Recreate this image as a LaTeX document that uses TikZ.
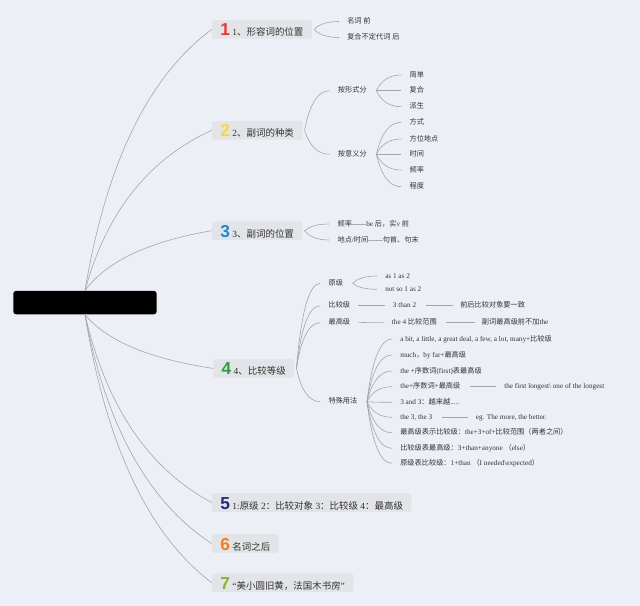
\documentclass[tikz,border=0pt]{standalone}
\usepackage{fontspec}
\usepackage{graphicx}
\setmainfont{Liberation Serif}
\newfontfamily\cjkfont{Noto Sans CJK SC}
\newfontfamily\numfont{Liberation Sans}
\usetikzlibrary{calc}
\XeTeXinterchartokenstate=1
\newXeTeXintercharclass\CJKclass
\newcount\cjkcnt
\def\setcjkrange#1#2{\cjkcnt=#1\relax\loop\ifnum\cjkcnt<#2\relax \XeTeXcharclass\cjkcnt=\CJKclass \advance\cjkcnt by 1 \repeat}
\setcjkrange{"3000}{"3040}
\setcjkrange{"4E00}{"A000}
\setcjkrange{"FF00}{"FFF0}
\XeTeXcharclass"201C=0
\XeTeXcharclass"201D=0
\XeTeXcharclass"2014=0
\XeTeXinterchartoks 0 \CJKclass = {\cjkfont}
\XeTeXinterchartoks 4095 \CJKclass = {\cjkfont}
\XeTeXinterchartoks \CJKclass 0 = {\rmfamily}
\XeTeXinterchartoks \CJKclass 4095 = {\rmfamily}
\definecolor{bg}{RGB}{236,240,246}
\definecolor{boxc}{RGB}{226,228,232}
\definecolor{linec}{RGB}{165,165,165}
\definecolor{txt}{RGB}{51,51,51}
\definecolor{cA}{RGB}{229,57,53}
\definecolor{cB}{RGB}{247,214,73}
\definecolor{cC}{RGB}{30,136,210}
\definecolor{cD}{RGB}{46,158,62}
\definecolor{cE}{RGB}{35,42,122}
\definecolor{cF}{RGB}{242,123,33}
\definecolor{cG}{RGB}{141,179,44}
\newcommand\dg[2]{{\numfont\bfseries\fontsize{13}{13}\selectfont\color{#1}#2}\hspace{1.8pt}}
\tikzset{
  topic/.style={fill=boxc, rounded corners=1.5pt, inner xsep=6.3pt, inner ysep=0pt,
    text height=11.9pt, text depth=2pt, anchor=west, font=\fontsize{7.1}{8}\selectfont, text=txt},
  leaf/.style={inner sep=0pt, anchor=west, text height=4.4pt, text depth=1.2pt,
    font=\fontsize{5.4}{6}\selectfont, text=txt},
  rconn/.style={draw=linec, line width=0.45pt, to path={let \p1=(\tikztostart), \p2=(\tikztotarget) in
    .. controls ({\x1+0.1667*(\x2-\x1)},{\y1+0.487*(\y2-\y1)}) and ({\x2-0.5*(\x2-\x1)},{\y2-0.18*(\y2-\y1)}) .. (\tikztotarget)}},
  conn/.style={draw=linec, line width=0.45pt, to path={let \p1=(\tikztostart), \p2=(\tikztotarget) in
    .. controls ({\x1+0.2*(\x2-\x1)},{\y1+0.667*(\y2-\y1)}) and ({\x2-0.467*(\x2-\x1)},\y2) .. (\tikztotarget)}},
}
\begin{document}
\begin{tikzpicture}[x=0.75pt,y=-0.75pt]
\useasboundingbox (0,0) rectangle (640,606);
\fill[bg] (0,0) rectangle (640,606);
% root
\node[fill=black, rounded corners=2pt, inner sep=0pt, minimum width=107.5pt, minimum height=17.5pt] (root) at (85,302.6) {};
% topics
\node[topic] (t1) at (211.7,29.4) {\dg{cA}{1}1、形容词的位置};
\node[topic] (t2) at (211.7,130.3) {\dg{cB}{2}2、副词的种类};
\node[topic] (t3) at (211.7,230.7) {\dg{cC}{3}3、副词的位置};
\node[topic] (t4) at (213,368.4) {\dg{cD}{4}4、比较等级};
\node[topic] (t5) at (211.7,502.5) {\dg{cE}{5}1:原级 2：比较对象 3：比较级 4：最高级};
\node[topic] (t6) at (211.7,543.5) {\dg{cF}{6}名词之后};
\node[topic] (t7) at (211.7,582.7) {\dg{cG}{7}“美小圆旧黄，法国木书房”};
% topic 1
\node[leaf] (a1) at (347,21.5) {名词 前};
\node[leaf] (a2) at (347,37.5) {复合不定代词 后};
% topic 2
\node[leaf] (b1) at (337.7,90.7) {按形式分};
\node[leaf] (b2) at (337.7,154.3) {按意义分};
\node[leaf] (b11) at (409.3,75) {简单};
\node[leaf] (b12) at (409.3,90.7) {复合};
\node[leaf] (b13) at (409.3,106.7) {派生};
\node[leaf] (b21) at (409.3,122.3) {方式};
\node[leaf] (b22) at (409.3,139) {方位地点};
\node[leaf] (b23) at (409.3,154.3) {时间};
\node[leaf] (b24) at (409.3,170) {频率};
\node[leaf] (b25) at (409.3,186.7) {程度};
% topic 3
\node[leaf] (c1) at (337.3,224) {频率——be 后，实v 前};
\node[leaf] (c2) at (337.3,240) {地点/时间——句首、句末};
% topic 4
\node[leaf] (d1) at (328.3,283.3) {原级};
\node[leaf] (d2) at (328.3,305.7) {比较级};
\node[leaf] (d3) at (328.3,322.7) {最高级};
\node[leaf] (d4) at (328.3,401.7) {特殊用法};
\node[leaf] (d11) at (385,276) {as 1 as 2};
\node[leaf] (d12) at (385,289.3) {not so 1 as 2};
\node[leaf] (d21) at (392.7,305.7) {3 than 2};
\node[leaf] (d22) at (460,305.7) {前后比较对象要一致};
\node[leaf] (d31) at (391.7,322.3) {the 4 比较范围};
\node[leaf] (d32) at (481.7,322.3) {副词最高级前不加the};
\node[leaf] (s1) at (400,339) {a bit, a little, a great deal, a few, a lot, many+比较级};
\node[leaf] (s2) at (400,355) {much，by far+最高级};
\node[leaf] (s3) at (400,371) {the +序数词(first)表最高级};
\node[leaf] (s4) at (400,386.7) {the+序数词+最高级};
\node[leaf] (s41) at (504,386.7) {the first longest\textbackslash{} one of the longest};
\node[leaf] (s5) at (400,402.3) {3 and 3：越来越.....};
\node[leaf] (s6) at (400,417.3) {the 3, the 3};
\node[leaf] (s61) at (475.7,417.3) {eg. The more, the better.};
\node[leaf] (s7) at (400,432.7) {最高级表示比较级：the+3+of+比较范围（两者之间）};
\node[leaf] (s8) at (400,448.3) {比较级表最高级：3+than+anyone （else）};
\node[leaf] (s9) at (400,463.3) {原级表比较级：1+than （I needed\textbackslash expected）};
% root connectors
\foreach \t in {t1,t2,t3} \draw[rconn] (root.north) to (\t.west);
\foreach \t in {t4,t5,t6,t7} \draw[rconn] (root.south) to (\t.west);
% topic connectors
\foreach \c in {a1,a2} \draw[conn] ([xshift=1.5pt]t1.east) to ([xshift=-6pt]\c.west);
\foreach \c in {b1,b2} \draw[conn] ([xshift=1.5pt]t2.east) to ([xshift=-6pt]\c.west);
\foreach \c in {c1,c2} \draw[conn] ([xshift=1.5pt]t3.east) to ([xshift=-6pt]\c.west);
\foreach \c in {d1,d2,d3,d4} \draw[conn] ([xshift=1.5pt]t4.east) to ([xshift=-6pt]\c.west);
\foreach \c in {b11,b12,b13} \draw[conn] ([xshift=7pt]b1.east) to ([xshift=-6pt]\c.west);
\foreach \c in {b21,b22,b23,b24,b25} \draw[conn] ([xshift=7pt]b2.east) to ([xshift=-6pt]\c.west);
\foreach \c in {d11,d12} \draw[conn] ([xshift=7pt]d1.east) to ([xshift=-6pt]\c.west);
\draw[conn] ([xshift=6pt]d2.east) to ([xshift=-6pt]d21.west);
\draw[conn] ([xshift=7pt]d21.east) to ([xshift=-5pt]d22.west);
\draw[conn] ([xshift=6pt]d3.east) to ([xshift=-6pt]d31.west);
\draw[conn] ([xshift=7pt]d31.east) to ([xshift=-5pt]d32.west);
\foreach \c in {s1,s2,s3,s4,s5,s6,s7,s8,s9} \draw[conn] ([xshift=7pt]d4.east) to ([xshift=-6pt]\c.west);
\draw[conn] ([xshift=7pt]s4.east) to ([xshift=-6pt]s41.west);
\draw[conn] ([xshift=7pt]s6.east) to ([xshift=-6pt]s61.west);
\end{tikzpicture}
\end{document}
